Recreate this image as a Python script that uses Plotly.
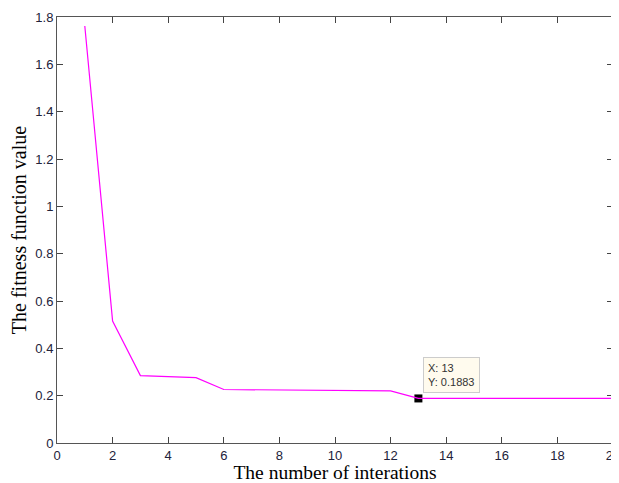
import plotly.graph_objects as go

iterations = [1, 2, 3, 4, 5, 6, 7, 8, 9, 10, 11, 12, 13, 14, 15, 16, 17, 18, 19, 20]
fitness = [1.762, 0.515, 0.285, 0.281, 0.276, 0.226, 0.225, 0.224, 0.221, 0.221,
           0.221, 0.220, 0.1883, 0.1883, 0.1883, 0.1883, 0.1883, 0.1883, 0.1883, 0.1883]
x_ticks = [0, 2, 4, 6, 8, 10, 12, 14, 16, 18, 20]
y_ticks = [0, 0.2, 0.4, 0.6, 0.8, 1, 1.2, 1.4, 1.6, 1.8]
tip_x = 13
tip_y = 0.1883

fig = go.Figure()
fig.add_trace(go.Scatter(x=[tip_x], y=[tip_y], mode="markers",
                         marker=dict(symbol="square", size=8, color="black"),
                         showlegend=False, cliponaxis=False))
fig.add_trace(go.Scatter(x=iterations, y=fitness, mode="lines",
                         line=dict(color="#FF00FF", width=1.2), showlegend=False))
fig.add_annotation(x=tip_x, y=tip_y, xref="x", yref="y", showarrow=False,
                   text=f"X: {tip_x}<br>Y: {tip_y}", align="left",
                   xanchor="left", yanchor="bottom", xshift=5, yshift=5,
                   font=dict(family="Liberation Sans, Arial", size=11, color="#333333"),
                   bgcolor="#FFFBEE", bordercolor="#CCCCCC", borderwidth=1, borderpad=4)

axis_common = dict(showline=True, linecolor="#555555", linewidth=1, mirror="ticks",
                   ticks="inside", ticklen=6, tickcolor="#444444", showgrid=False,
                   zeroline=False, automargin=False, ticklabeloverflow="allow",
                   tickfont=dict(family="Liberation Sans, Arial", size=13, color="#22223a"))
fig.update_xaxes(range=[0, 20], tickvals=x_ticks, ticktext=[str(v) for v in x_ticks],
                 title=dict(text="The number of interations", standoff=0,
                            font=dict(family="Liberation Serif, Times New Roman", size=19.5, color="black")),
                 **axis_common)
fig.update_yaxes(range=[0, 1.8], tickvals=y_ticks, ticktext=[f"{v:g}" for v in y_ticks],
                 title=dict(text="The fitness function value", standoff=6,
                            font=dict(family="Liberation Serif, Times New Roman", size=20, color="black")),
                 **axis_common)
fig.update_layout(width=611, height=475, margin=dict(l=49, r=6, t=9, b=40),
                  plot_bgcolor="white", paper_bgcolor="white")
fig.write_html("out.html")
